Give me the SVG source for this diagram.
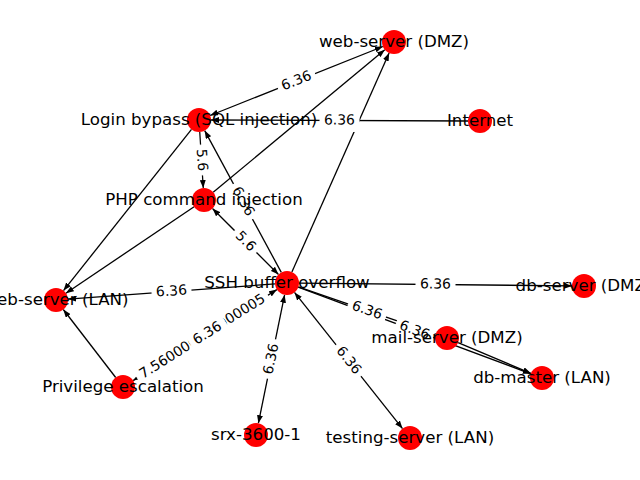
<svg xmlns="http://www.w3.org/2000/svg" width="640" height="480" viewBox="0 0 640 480">
<style>
.e{stroke:#000;stroke-width:1.3;fill:none}
.one{marker-end:url(#ah)}
.two{marker-start:url(#ah);marker-end:url(#ah)}
.nd{fill:#ff0000}
.nl{font-family:"DejaVu Sans","Liberation Sans",sans-serif;font-size:16.67px;fill:#000;text-anchor:middle}
.lb rect{fill:#fff;stroke:#fff}
.lb text{font-family:"DejaVu Sans","Liberation Sans",sans-serif;font-size:13.9px;fill:#000;text-anchor:middle}
</style>
<defs>
<marker id="ah" viewBox="0 0 8 6" refX="8" refY="3" markerWidth="8" markerHeight="6" markerUnits="userSpaceOnUse" orient="auto-start-reverse">
<path d="M0,0 L8,3 L0,6 z" fill="#000"/>
</marker>
</defs>
<rect width="640" height="480" fill="#fff"/>
<g id="connectors">
<line class="e two" x1="210.1" y1="115.5" x2="382.9" y2="46.5"/>
<line class="e one" x1="468" y1="121" x2="211" y2="120"/>
<line class="e one" x1="199.75" y1="132" x2="203.25" y2="188"/>
<line class="e one" x1="191.5" y1="129.4" x2="63.5" y2="290.6"/>
<line class="e one" x1="213.2" y1="192.3" x2="384.8" y2="49.7"/>
<line class="e one" x1="194.1" y1="206.7" x2="65.9" y2="293.3"/>
<line class="e one" x1="291.9" y1="272" x2="389.1" y2="53"/>
<line class="e one" x1="281.3" y1="272.4" x2="204.7" y2="130.6"/>
<line class="e two" x1="212.5" y1="208.5" x2="278.5" y2="274.5"/>
<line class="e one" x1="275" y1="283.9" x2="68" y2="299.1"/>
<line class="e one" x1="115.7" y1="377.5" x2="63.3" y2="309.5"/>
<line class="e two" x1="133.1" y1="380.6" x2="276.9" y2="289.6"/>
<line class="e two" x1="284.6" y1="294.8" x2="258.4" y2="423.2"/>
<line class="e two" x1="294.5" y1="292.4" x2="402.5" y2="428.6"/>
<line class="e one" x1="299" y1="283.1" x2="572" y2="285.9"/>
<line class="e one" x1="298.3" y1="286.9" x2="435.7" y2="334.1"/>
<line class="e one" x1="298.2" y1="287.2" x2="530.8" y2="373.8"/>
<line class="e one" x1="458.1" y1="342.7" x2="530.9" y2="373.3"/>
</g>
<g id="edge-labels">
<g class="lb" transform="translate(296.5,81) rotate(-21.8)"><rect x="-19.5" y="-11" width="39" height="22" rx="5"/><text y="4">6.36</text></g>
<g class="lb" transform="translate(339.5,120.5) rotate(0.2)"><rect x="-19.5" y="-11" width="39" height="22" rx="5"/><text y="4">6.36</text></g>
<g class="lb" transform="translate(201.5,160) rotate(86.4)"><rect x="-15" y="-11" width="30" height="22" rx="5"/><text y="4">5.6</text></g>
<g class="lb" transform="translate(243,201.5) rotate(61.6)"><rect x="-19.5" y="-11" width="39" height="22" rx="5"/><text y="4">6.36</text></g>
<g class="lb" transform="translate(245.5,241.5) rotate(45)"><rect x="-15" y="-11" width="30" height="22" rx="5"/><text y="4">5.6</text></g>
<g class="lb" transform="translate(171.5,291.5) rotate(-4.2)"><rect x="-19.5" y="-11" width="39" height="22" rx="5"/><text y="4">6.36</text></g>
<g class="lb" transform="translate(205,335) rotate(-32.4)"><rect x="-80" y="-11" width="154" height="22" rx="5"/><text x="-3" y="4">7.560000000000005</text></g>
<g class="lb" transform="translate(205,335) rotate(-32.4)"><rect x="-17" y="-11" width="41" height="22" rx="5"/><text x="3" y="4">6.36</text></g>
<g class="lb" transform="translate(271.5,359) rotate(-78.5)"><rect x="-19.5" y="-11" width="39" height="22" rx="5"/><text y="4">6.36</text></g>
<g class="lb" transform="translate(348.5,360.5) rotate(51.6)"><rect x="-19.5" y="-11" width="39" height="22" rx="5"/><text y="4">6.36</text></g>
<g class="lb" transform="translate(435.5,284.5) rotate(0.6)"><rect x="-19.5" y="-11" width="39" height="22" rx="5"/><text y="4">6.36</text></g>
<g class="lb" transform="translate(367,310.5) rotate(19)"><rect x="-19.5" y="-11" width="39" height="22" rx="5"/><text y="4">6.36</text></g>
<g class="lb" transform="translate(414.5,330.5) rotate(20.4)"><rect x="-19.5" y="-11" width="39" height="22" rx="5"/><text y="4">6.36</text></g>
</g>
<g id="node-web-dmz"><circle class="nd" cx="394" cy="42" r="12"/><text class="nl" x="394" y="47">web-server (DMZ)</text></g>
<g id="node-login"><circle class="nd" cx="199" cy="120" r="12"/><text class="nl" x="199" y="125">Login bypass (SQL injection)</text></g>
<g id="node-internet"><circle class="nd" cx="480" cy="121" r="12"/><text class="nl" x="480" y="126">Internet</text></g>
<g id="node-php"><circle class="nd" cx="204" cy="200" r="12"/><text class="nl" x="204" y="205">PHP command injection</text></g>
<g id="node-ssh"><circle class="nd" cx="287" cy="283" r="12"/><text class="nl" x="287" y="288">SSH buffer overflow</text></g>
<g id="node-web-lan"><circle class="nd" cx="56" cy="300" r="12"/><text class="nl" x="56" y="305">web-server (LAN)</text></g>
<g id="node-db-dmz"><circle class="nd" cx="584" cy="286" r="12"/><text class="nl" x="584" y="291">db-server (DMZ)</text></g>
<g id="node-mail"><circle class="nd" cx="447" cy="338" r="12"/><text class="nl" x="447" y="343">mail-server (DMZ)</text></g>
<g id="node-db-master"><circle class="nd" cx="542" cy="378" r="12"/><text class="nl" x="542" y="383">db-master (LAN)</text></g>
<g id="node-priv"><circle class="nd" cx="123" cy="387" r="12"/><text class="nl" x="123" y="392">Privilege escalation</text></g>
<g id="node-srx"><circle class="nd" cx="256" cy="435" r="12"/><text class="nl" x="256" y="440">srx-3600-1</text></g>
<g id="node-testing"><circle class="nd" cx="410" cy="438" r="12"/><text class="nl" x="410" y="443">testing-server (LAN)</text></g>
</svg>
